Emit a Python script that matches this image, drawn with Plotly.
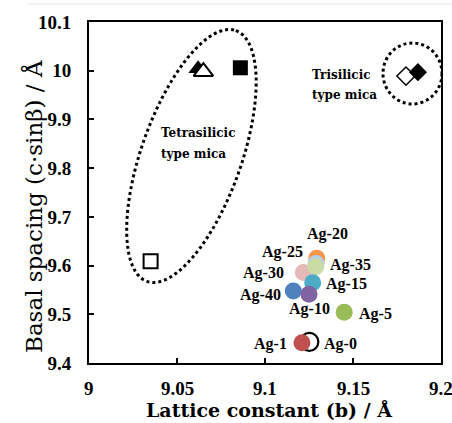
import numpy as np
import plotly.graph_objects as go

# ---- data ----
ag_labels = ["Ag-20", "Ag-25", "Ag-30", "Ag-35", "Ag-40", "Ag-15", "Ag-10", "Ag-5", "Ag-0", "Ag-1"]
ag_b = [9.1294, 9.1290, 9.1218, 9.1288, 9.1161, 9.1271, 9.1250, 9.1450, 9.1252, 9.1210]
ag_d = [9.6148, 9.6040, 9.5860, 9.5975, 9.5476, 9.5647, 9.5409, 9.5040, 9.4435, 9.4415]
ag_colors = ["#F79646", "#B9CDE5", "#E6B9B8", "#C9DCA6", "#4F81BD", "#4BACC6",
             "#8064A2", "#9BBB59", "#FFFFFF", "#C0504D"]
# label offsets (pixels) relative to the point
ag_dx = [11, -34, -40, 35, -33, 34, 0, 31, 31, -31]
ag_dy = [24, 12, -1, 2, -4, -1, -15, -2, -2, -1]

tetra_open_sq_b, tetra_open_sq_d = [9.035], [9.609]
tetra_fill_tri_b, tetra_fill_tri_d = [9.0620], [10.004]
tetra_open_tri_b, tetra_open_tri_d = [9.0650], [9.998]
tetra_fill_sq_b, tetra_fill_sq_d = [9.0860], [10.006]
tri_open_dia_b, tri_open_dia_d = [9.1801], [9.989]
tri_fill_dia_b, tri_fill_dia_d = [9.1869], [9.997]

x_range = [9.0, 9.2]
y_range = [9.4, 10.1]
x_tickvals = [9.0, 9.05, 9.1, 9.15, 9.2]
x_ticktext = ["9", "9.05", "9.1", "9.15", "9.2"]
x_title = "Lattice constant (b) / Å"
y_title = "Basal spacing (c·sinβ) / Å"

W, H = 452, 423
ML, MR, MT, MB = 89, 11, 22, 60
pw, ph = W - ML - MR, H - MT - MB
sx = (x_range[1] - x_range[0]) / pw
sy = (y_range[1] - y_range[0]) / ph

font = "Times New Roman, Liberation Serif, serif"
wfont = "DejaVu Serif, serif"

fig = go.Figure()

def add_pts(xs, ys, symbol, size, fill, lw=0, lc="black"):
    fig.add_trace(go.Scatter(x=xs, y=ys, mode="markers", showlegend=False,
                             hoverinfo="skip",
                             marker=dict(symbol=symbol, size=size, color=fill,
                                         line=dict(width=lw, color=lc))))

add_pts(tetra_open_sq_b, tetra_open_sq_d, "square", 14, "white", 2)
add_pts(tetra_fill_tri_b, tetra_fill_tri_d, "triangle-up", 17, "black")
add_pts(tetra_open_tri_b, tetra_open_tri_d, "triangle-up", 17, "white", 2)
add_pts(tetra_fill_sq_b, tetra_fill_sq_d, "square", 15, "black")
add_pts(tri_open_dia_b, tri_open_dia_d, "diamond", 14, "white", 1.5)
add_pts(tri_fill_dia_b, tri_fill_dia_d, "diamond", 14, "black")

for lab, xb, yd, c in zip(ag_labels, ag_b, ag_d, ag_colors):
    if lab == "Ag-0":
        add_pts([xb], [yd], "circle", 18, "white", 2.2)
    else:
        add_pts([xb], [yd], "circle", 17, c)

for lab, xb, yd, dx, dy in zip(ag_labels, ag_b, ag_d, ag_dx, ag_dy):
    fig.add_annotation(x=xb, y=yd, text="<b>" + lab + "</b>", showarrow=False,
                       xshift=dx, yshift=dy,
                       font=dict(family=font, size=16, color="black"))

# tetrasilicic dotted ellipse (tilted)
cx, cy = 9.0582, 9.8249
a_px, b_px, tilt = 133.0, 50.0, np.deg2rad(19.5)
t = np.linspace(0, 2 * np.pi, 200)
px = a_px * np.cos(t) * np.sin(tilt) + b_px * np.sin(t) * np.cos(tilt)
py = a_px * np.cos(t) * np.cos(tilt) - b_px * np.sin(t) * np.sin(tilt)
ex = cx + px * sx
ey = cy + py * sy
path = "M " + " L ".join(f"{xx:.6f},{yy:.6f}" for xx, yy in zip(ex, ey)) + " Z"
fig.add_shape(type="path", path=path, xref="x", yref="y",
              line=dict(color="black", width=3, dash="3px,3px"))

# trisilicic dotted circle
ccx, ccy = 9.1838, 9.9943
rx, ry = 29.5, 30.5
fig.add_shape(type="circle", xref="x", yref="y",
              x0=ccx - rx * sx, x1=ccx + rx * sx, y0=ccy - ry * sy, y1=ccy + ry * sy,
              line=dict(color="black", width=3, dash="3px,3px"))

def px2paper(xp, yp):
    return (xp - ML) / pw, (H - MB - yp) / ph

for txt, xp, yp in [("Tetrasilicic", 159, 133), ("type mica", 159, 154),
                    ("Trisilicic", 310, 75), ("type mica", 310, 95)]:
    xx, yy = px2paper(xp, yp)
    fig.add_annotation(x=xx, y=yy, xref="paper", yref="paper", text="<b>" + txt + "</b>",
                       showarrow=False, xanchor="left", yanchor="middle",
                       font=dict(family=wfont, size=12, color="black"))

# x tick labels drawn as text (the last one runs off the right edge, as in the original)
_, ty = px2paper(0, 388)
for v, s in zip(x_tickvals, x_ticktext):
    fig.add_annotation(x=v, y=ty, xref="x", yref="paper", text="<b>" + s + "</b>",
                       showarrow=False, xanchor="center", yanchor="middle",
                       font=dict(family=font, size=19, color="black"))

# axis titles
xx, yy = px2paper(269, 410)
fig.add_annotation(x=xx, y=yy, xref="paper", yref="paper", text="<b>" + x_title + "</b>",
                   showarrow=False, xanchor="center", yanchor="middle",
                   font=dict(family=wfont, size=19, color="black"))
xx, yy = px2paper(33, 207)
fig.add_annotation(x=xx, y=yy, xref="paper", yref="paper", text=y_title, textangle=-90,
                   showarrow=False, xanchor="center", yanchor="middle",
                   font=dict(family=wfont, size=23, color="black"))

# faint top border line
fig.add_shape(type="line", xref="paper", yref="paper", x0=-0.175, x1=1.04,
              y0=1 + 18 / ph, y1=1 + 18 / ph, line=dict(color="#e6e6e6", width=1))

axis_common = dict(showline=True, linewidth=2, linecolor="black", mirror=True,
                   ticks="inside", ticklen=5, tickwidth=1.5, tickcolor="black",
                   showgrid=False, zeroline=False, automargin=False,
                   tickprefix="<b>", ticksuffix="</b>",
                   tickfont=dict(family=font, size=19, color="black"))
fig.update_xaxes(range=x_range, tickvals=x_tickvals, showticklabels=False, **axis_common)
fig.update_yaxes(range=y_range, dtick=0.1, tick0=9.4, ticklabelstandoff=12, **axis_common)
fig.update_layout(width=W, height=H, margin=dict(l=ML, r=MR, t=MT, b=MB, autoexpand=False),
                  autosize=False, plot_bgcolor="white", paper_bgcolor="white",
                  showlegend=False)

fig.write_html("out.html",
               config={"responsive": False, "displayModeBar": False},
               post_script="document.body.style.margin='0';document.body.style.padding='0';"
                           "document.body.style.overflow='hidden';")
